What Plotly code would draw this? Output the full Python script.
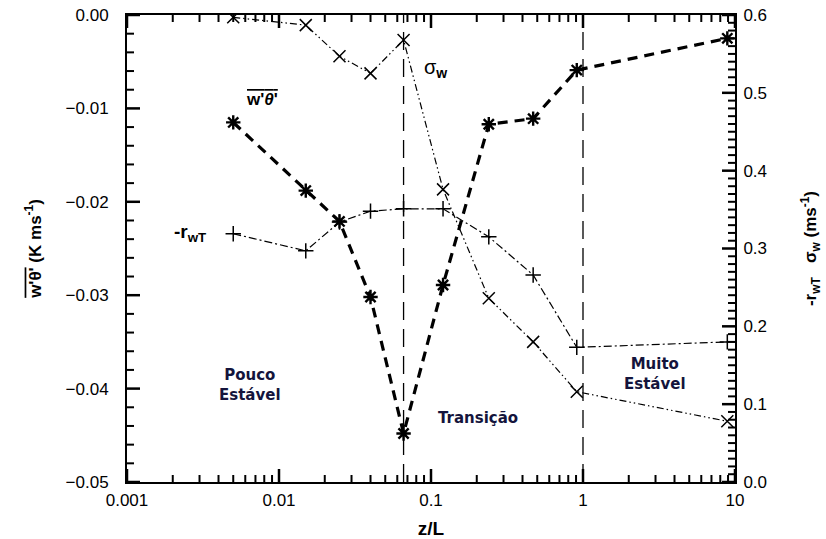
import plotly.graph_objects as go

# ---- data ----
zL = [0.005, 0.015, 0.025, 0.04, 0.066, 0.12, 0.24, 0.47, 0.91, 8.9]
w_theta = [-0.0115, -0.0188, -0.0221, -0.0302, -0.0448, -0.0289, -0.0117, -0.0111, -0.0059, -0.0025]
sigma_w = [0.597, 0.587, 0.547, 0.525, 0.568, 0.376, 0.236, 0.180, 0.116, 0.078]
r_wT = [0.319, 0.297, 0.334, 0.348, 0.351, 0.351, 0.315, 0.266, 0.173, 0.180]
regime_bounds = [0.066, 1.0]
x_tickvals = [0.001, 0.01, 0.1, 1, 10]
x_ticktext = ["0.001", "0.01", "0.1", "1", "10"]
y1_tickvals = [0.0, -0.01, -0.02, -0.03, -0.04, -0.05]
y1_ticktext = ["0.00", "\u22120.01", "\u22120.02", "\u22120.03", "\u22120.04", "\u22120.05"]
y2_tickvals = [0.0, 0.1, 0.2, 0.3, 0.4, 0.5, 0.6]
y2_ticktext = ["0.0", "0.1", "0.2", "0.3", "0.4", "0.5", "0.6"]

FONT = "Arial"
NAVY = "#14143c"

W, H = 826, 539
ML, MR, MT, MB = 127, 91, 15, 57
PW, PH = W - ML - MR, H - MT - MB
XR = [-3, 1]
Y1R = [-0.05, 0.0]
Y2R = [0.0, 0.6]

# minor tick positions (axis decoration)
minor_x = [m * 10.0 ** e for e in range(-3, 1) for m in range(2, 10)]
minor_y1 = [-k * 0.002 for k in range(26) if k % 5]
minor_y2 = [k * 0.01 for k in range(61) if k % 10]

fig = go.Figure()

# regime boundaries
for xb in regime_bounds:
    fig.add_trace(go.Scatter(x=[xb, xb], y=[-0.05, 0.0], mode="lines",
                             line=dict(color="black", width=1.3, dash="18px,9px"),
                             showlegend=False, hoverinfo="skip"))

fig.add_trace(go.Scatter(x=zL, y=w_theta, mode="lines+markers",
                         line=dict(color="black", width=3.2, dash="10px,7px"),
                         marker=dict(symbol="asterisk-open", size=12, color="black",
                                     line=dict(width=2.4, color="black")),
                         showlegend=False))
fig.add_trace(go.Scatter(x=zL, y=sigma_w, mode="lines+markers", yaxis="y2",
                         line=dict(color="black", width=1.2, dash="7px,3px,1.5px,3px,1.5px,3px"),
                         marker=dict(symbol="x-thin-open", size=12, color="black",
                                     line=dict(width=1.5, color="black")),
                         showlegend=False))
fig.add_trace(go.Scatter(x=zL, y=r_wT, mode="lines+markers", yaxis="y2",
                         line=dict(color="black", width=1.2, dash="8px,3px,2px,3px"),
                         marker=dict(symbol="cross-thin-open", size=11, color="black",
                                     line=dict(width=1.5, color="black")),
                         showlegend=False))

# ---- inside tick marks, drawn as separate pixel-length line traces ----
def tick_seg(xs, ys, yaxis, width):
    fig.add_trace(go.Scatter(x=xs, y=ys, yaxis=yaxis, mode="lines",
                             line=dict(color="black", width=width),
                             showlegend=False, hoverinfo="skip"))

MAJ, MIN = (13, 2.5), (7, 2.0)
dyf = (Y1R[1] - Y1R[0]) / PH
xf = lambda px: 10 ** (px * (XR[1] - XR[0]) / PW)

for vals, (ln, w) in [(x_tickvals, MAJ), (minor_x, MIN)]:
    for v in vals:
        tick_seg([v, v], [Y1R[0], Y1R[0] + ln * dyf], "y", w)
        tick_seg([v, v], [Y1R[1], Y1R[1] - ln * dyf], "y", w)
for vals, (ln, w) in [(y1_tickvals, MAJ), (minor_y1, MIN)]:
    for v in vals:
        tick_seg([10 ** XR[0], 10 ** XR[0] * xf(ln)], [v, v], "y", w)
for vals, (ln, w) in [(y2_tickvals, MAJ), (minor_y2, MIN)]:
    for v in vals:
        tick_seg([10 ** XR[1], 10 ** XR[1] / xf(ln)], [v, v], "y2", w)

common = dict(showgrid=False, zeroline=False, automargin=False)

fig.update_layout(
    width=W, height=H,
    margin=dict(l=ML, r=MR, t=MT, b=MB),
    paper_bgcolor="white", plot_bgcolor="white",
    font=dict(family=FONT, size=16, color="black"),
    xaxis=dict(type="log", range=XR, tickmode="array", tickvals=x_tickvals,
               ticktext=x_ticktext, showline=True, linecolor="black", linewidth=2,
               mirror=True, ticks="outside", ticklen=0, ticklabelstandoff=2,
               title=dict(text="<b>z/L</b>", font=dict(size=19, family=FONT), standoff=16),
               tickfont=dict(size=17, family=FONT), **common),
    yaxis=dict(range=Y1R, tickmode="array", tickvals=y1_tickvals,
               ticktext=y1_ticktext, showline=True, linecolor="black", linewidth=2,
               ticks="outside", ticklen=0, ticklabelstandoff=13,
               title=dict(text="<b><span style='text-decoration:overline'>w'θ'</span> (K ms<sup>-1</sup>)</b>",
                          font=dict(size=17, family=FONT), standoff=20),
               tickfont=dict(size=17, family=FONT), **common),
    yaxis2=dict(range=Y2R, overlaying="y", side="right", tickmode="array",
                tickvals=y2_tickvals, ticktext=y2_ticktext, showline=True,
                linecolor="black", linewidth=2, ticks="outside", ticklen=0,
                ticklabelstandoff=3,
                title=dict(text="<b>-r<sub>wT</sub>   σ<sub>w</sub> (ms<sup>-1</sup>)</b>",
                           font=dict(size=17, family=FONT), standoff=38),
                tickfont=dict(size=17, family=FONT), **common),
)

ann = [
    dict(x=0.508, y=0.886, text="σ<sub><b>w</b></sub>", font=dict(size=20, family=FONT)),
    dict(x=0.222, y=0.818, text="<b><span style='text-decoration:overline'>w'<i>θ</i>'</span></b>",
         font=dict(size=17, family=FONT)),
    dict(x=0.104, y=0.533, text="<b>-r<sub>wT</sub></b>", font=dict(size=19, family=FONT)),
    dict(x=0.202, y=0.208, text="<b>Pouco<br>Estável</b>",
         font=dict(size=15, family="DejaVu Sans", color=NAVY), align="center"),
    dict(x=0.577, y=0.137, text="<b>Transição</b>",
         font=dict(size=15, family="DejaVu Sans", color=NAVY)),
    dict(x=0.868, y=0.231, text="<b>Muito<br>Estável</b>",
         font=dict(size=15, family="DejaVu Sans", color=NAVY), align="center"),
]
for a in ann:
    fig.add_annotation(xref="paper", yref="paper", showarrow=False,
                       xanchor="center", yanchor="middle", **a)

fig.write_html("out.html")
